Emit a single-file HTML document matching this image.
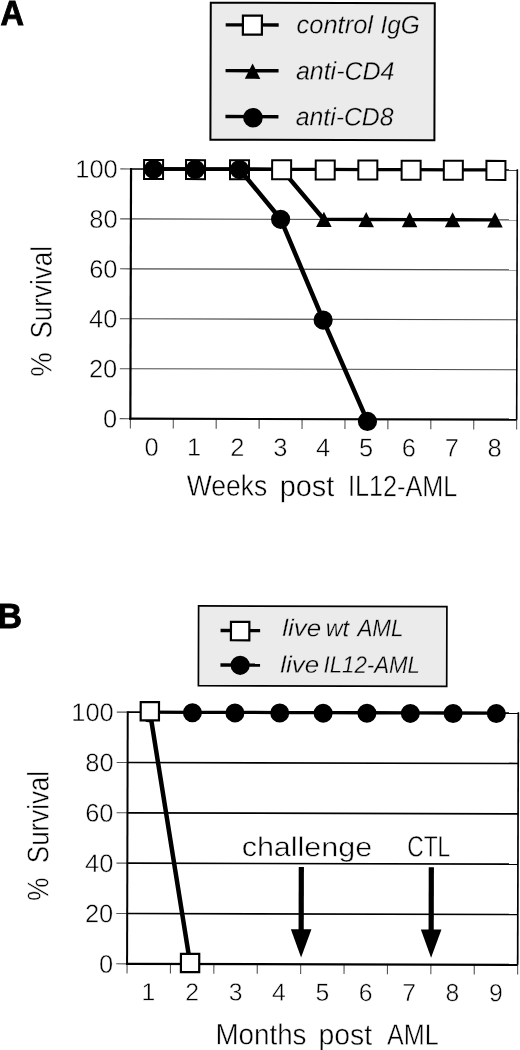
<!DOCTYPE html>
<html><head><meta charset="utf-8"><style>
html,body{margin:0;padding:0;background:#fff;width:520px;height:1050px;overflow:hidden;}
svg{display:block;will-change:transform;font-family:"Liberation Sans", sans-serif;}
</style></head><body>
<svg width="520" height="1050" viewBox="0 0 520 1050">
<rect x="0" y="0" width="520" height="1050" fill="#fff"/>
<text x="0.44" y="24.75" font-size="34.16" font-family="Liberation Sans, sans-serif" font-weight="bold" stroke="#000" stroke-width="0.9" textLength="23.47" lengthAdjust="spacingAndGlyphs">A</text>
<g transform="rotate(0.15 324 294)">
<rect x="210" y="3" width="224" height="137" fill="#ebebeb" stroke="#000" stroke-width="2"/>
<line x1="225" y1="25.1" x2="278" y2="25.1" stroke="#000" stroke-width="3.4" stroke-linecap="butt"/>
<line x1="225" y1="70.9" x2="278" y2="70.9" stroke="#000" stroke-width="3.4" stroke-linecap="butt"/>
<line x1="225" y1="116.8" x2="278" y2="116.8" stroke="#000" stroke-width="3.4" stroke-linecap="butt"/>
<rect x="242.2" y="15.8" width="19" height="19" fill="#fff" stroke="#000" stroke-width="2.2"/>
<polygon points="252,63.75 259.75,79.05 244.25,79.05" fill="#000"/>
<circle cx="252.5" cy="117.9" r="9.8" fill="#000"/>
<text x="295.87" y="33.3" font-size="25.44" font-family="Liberation Sans, sans-serif" font-style="italic" stroke="#ebebeb" stroke-width="0.3" textLength="76.46" lengthAdjust="spacingAndGlyphs">control</text>
<text x="379.74" y="33.3" font-size="25.44" font-family="Liberation Sans, sans-serif" font-style="italic" stroke="#ebebeb" stroke-width="0.3" textLength="39.31" lengthAdjust="spacingAndGlyphs">IgG</text>
<text x="295.34" y="79.6" font-size="25.44" font-family="Liberation Sans, sans-serif" font-style="italic" stroke="#ebebeb" stroke-width="0.3" textLength="98.5" lengthAdjust="spacingAndGlyphs">anti-CD4</text>
<text x="295.34" y="125.4" font-size="25.44" font-family="Liberation Sans, sans-serif" font-style="italic" stroke="#ebebeb" stroke-width="0.3" textLength="97.7" lengthAdjust="spacingAndGlyphs">anti-CD8</text>
<line x1="130.7" y1="369.25" x2="517" y2="369.25" stroke="#4a4a4a" stroke-width="1.1" stroke-linecap="butt"/>
<line x1="130.7" y1="319.3" x2="517" y2="319.3" stroke="#4a4a4a" stroke-width="1.1" stroke-linecap="butt"/>
<line x1="130.7" y1="269.35" x2="517" y2="269.35" stroke="#4a4a4a" stroke-width="1.1" stroke-linecap="butt"/>
<line x1="130.7" y1="219.4" x2="517" y2="219.4" stroke="#4a4a4a" stroke-width="1.1" stroke-linecap="butt"/>
<line x1="130.7" y1="169.45" x2="517" y2="169.45" stroke="#000" stroke-width="1.6" stroke-linecap="butt"/>
<line x1="517" y1="168.65" x2="517" y2="419.2" stroke="#000" stroke-width="1.6" stroke-linecap="butt"/>
<line x1="120" y1="419.2" x2="130.7" y2="419.2" stroke="#555" stroke-width="1.1" stroke-linecap="butt"/>
<line x1="120" y1="369.25" x2="130.7" y2="369.25" stroke="#555" stroke-width="1.1" stroke-linecap="butt"/>
<line x1="120" y1="319.3" x2="130.7" y2="319.3" stroke="#555" stroke-width="1.1" stroke-linecap="butt"/>
<line x1="120" y1="269.35" x2="130.7" y2="269.35" stroke="#555" stroke-width="1.1" stroke-linecap="butt"/>
<line x1="120" y1="219.4" x2="130.7" y2="219.4" stroke="#555" stroke-width="1.1" stroke-linecap="butt"/>
<line x1="120" y1="169.45" x2="130.7" y2="169.45" stroke="#555" stroke-width="1.1" stroke-linecap="butt"/>
<line x1="130.7" y1="419.2" x2="130.7" y2="429" stroke="#555" stroke-width="1.1" stroke-linecap="butt"/>
<line x1="173.62" y1="419.2" x2="173.62" y2="429" stroke="#555" stroke-width="1.1" stroke-linecap="butt"/>
<line x1="216.54" y1="419.2" x2="216.54" y2="429" stroke="#555" stroke-width="1.1" stroke-linecap="butt"/>
<line x1="259.47" y1="419.2" x2="259.47" y2="429" stroke="#555" stroke-width="1.1" stroke-linecap="butt"/>
<line x1="302.39" y1="419.2" x2="302.39" y2="429" stroke="#555" stroke-width="1.1" stroke-linecap="butt"/>
<line x1="345.31" y1="419.2" x2="345.31" y2="429" stroke="#555" stroke-width="1.1" stroke-linecap="butt"/>
<line x1="388.23" y1="419.2" x2="388.23" y2="429" stroke="#555" stroke-width="1.1" stroke-linecap="butt"/>
<line x1="431.16" y1="419.2" x2="431.16" y2="429" stroke="#555" stroke-width="1.1" stroke-linecap="butt"/>
<line x1="474.08" y1="419.2" x2="474.08" y2="429" stroke="#555" stroke-width="1.1" stroke-linecap="butt"/>
<line x1="517" y1="419.2" x2="517" y2="429" stroke="#555" stroke-width="1.1" stroke-linecap="butt"/>
<line x1="130.7" y1="168.45" x2="130.7" y2="420.2" stroke="#000" stroke-width="2.2" stroke-linecap="butt"/>
<line x1="129.7" y1="419.2" x2="517" y2="419.2" stroke="#000" stroke-width="2.2" stroke-linecap="butt"/>
<text x="103.25" y="428.1" font-size="25.42" font-family="Liberation Sans, sans-serif" stroke="#fff" stroke-width="0.45">0</text>
<text x="89.11" y="378.15" font-size="25.42" font-family="Liberation Sans, sans-serif" stroke="#fff" stroke-width="0.45">20</text>
<text x="89.11" y="328.2" font-size="25.42" font-family="Liberation Sans, sans-serif" stroke="#fff" stroke-width="0.45">40</text>
<text x="89.11" y="278.25" font-size="25.42" font-family="Liberation Sans, sans-serif" stroke="#fff" stroke-width="0.45">60</text>
<text x="89.11" y="228.3" font-size="25.42" font-family="Liberation Sans, sans-serif" stroke="#fff" stroke-width="0.45">80</text>
<text x="74.97" y="178.35" font-size="25.42" font-family="Liberation Sans, sans-serif" stroke="#fff" stroke-width="0.45">100</text>
<text x="144.83" y="456.2" font-size="25.42" font-family="Liberation Sans, sans-serif" stroke="#fff" stroke-width="0.45">0</text>
<text x="187.38" y="456.2" font-size="25.42" font-family="Liberation Sans, sans-serif" stroke="#fff" stroke-width="0.45">1</text>
<text x="230.63" y="456.2" font-size="25.42" font-family="Liberation Sans, sans-serif" stroke="#fff" stroke-width="0.45">2</text>
<text x="273.6" y="456.2" font-size="25.42" font-family="Liberation Sans, sans-serif" stroke="#fff" stroke-width="0.45">3</text>
<text x="316.51" y="456.2" font-size="25.42" font-family="Liberation Sans, sans-serif" stroke="#fff" stroke-width="0.45">4</text>
<text x="359.36" y="456.2" font-size="25.42" font-family="Liberation Sans, sans-serif" stroke="#fff" stroke-width="0.45">5</text>
<text x="402.14" y="456.2" font-size="25.42" font-family="Liberation Sans, sans-serif" stroke="#fff" stroke-width="0.45">6</text>
<text x="445.12" y="456.2" font-size="25.42" font-family="Liberation Sans, sans-serif" stroke="#fff" stroke-width="0.45">7</text>
<text x="488.03" y="456.2" font-size="25.42" font-family="Liberation Sans, sans-serif" stroke="#fff" stroke-width="0.45">8</text>
<text x="187.38" y="496" font-size="29.51" font-family="Liberation Sans, sans-serif" stroke="#fff" stroke-width="0.45" textLength="80.26" lengthAdjust="spacingAndGlyphs">Weeks</text>
<text x="280.24" y="496" font-size="29.51" font-family="Liberation Sans, sans-serif" stroke="#fff" stroke-width="0.45" textLength="54.57" lengthAdjust="spacingAndGlyphs">post</text>
<text x="348.47" y="496" font-size="29.51" font-family="Liberation Sans, sans-serif" stroke="#fff" stroke-width="0.45" textLength="109.26" lengthAdjust="spacingAndGlyphs">IL12-AML</text>
<text x="-339.18" y="0" font-size="29.8" font-family="Liberation Sans, sans-serif" stroke="#fff" stroke-width="0.45" textLength="92.42" lengthAdjust="spacingAndGlyphs" transform="translate(51.6,0) rotate(-90)">Survival</text>
<text x="-377.38" y="0" font-size="29.8" font-family="Liberation Sans, sans-serif" stroke="#fff" stroke-width="0.45" textLength="24.57" lengthAdjust="spacingAndGlyphs" transform="translate(51.6,0) rotate(-90)">%</text>
<line x1="153.25" y1="169.45" x2="195.2" y2="169.45" stroke="#000" stroke-width="3.3" stroke-linecap="round"/>
<line x1="195.2" y1="169.45" x2="239.2" y2="169.45" stroke="#000" stroke-width="3.3" stroke-linecap="round"/>
<line x1="239.2" y1="169.45" x2="281.3" y2="169.45" stroke="#000" stroke-width="3.3" stroke-linecap="round"/>
<line x1="281.3" y1="169.45" x2="323.7" y2="219.4" stroke="#000" stroke-width="4.5" stroke-linecap="round"/>
<line x1="323.7" y1="219.4" x2="366" y2="219.4" stroke="#000" stroke-width="3.3" stroke-linecap="round"/>
<line x1="366" y1="219.4" x2="409.4" y2="219.4" stroke="#000" stroke-width="3.3" stroke-linecap="round"/>
<line x1="409.4" y1="219.4" x2="452.4" y2="219.4" stroke="#000" stroke-width="3.3" stroke-linecap="round"/>
<line x1="452.4" y1="219.4" x2="494.8" y2="219.4" stroke="#000" stroke-width="3.3" stroke-linecap="round"/>
<polygon points="153.25,161.85 161,177.05 145.5,177.05" fill="#000"/>
<polygon points="195.2,161.85 202.95,177.05 187.45,177.05" fill="#000"/>
<polygon points="239.2,161.85 246.95,177.05 231.45,177.05" fill="#000"/>
<polygon points="281.3,161.85 289.05,177.05 273.55,177.05" fill="#000"/>
<polygon points="323.7,211.8 331.45,227 315.95,227" fill="#000"/>
<polygon points="366,211.8 373.75,227 358.25,227" fill="#000"/>
<polygon points="409.4,211.8 417.15,227 401.65,227" fill="#000"/>
<polygon points="452.4,211.8 460.15,227 444.65,227" fill="#000"/>
<polygon points="494.8,211.8 502.55,227 487.05,227" fill="#000"/>
<line x1="153.25" y1="169.45" x2="195.2" y2="169.45" stroke="#000" stroke-width="3.3" stroke-linecap="round"/>
<line x1="195.2" y1="169.45" x2="239.2" y2="169.45" stroke="#000" stroke-width="3.3" stroke-linecap="round"/>
<line x1="239.2" y1="169.45" x2="281.3" y2="169.45" stroke="#000" stroke-width="3.3" stroke-linecap="round"/>
<line x1="281.3" y1="169.45" x2="324.9" y2="169.45" stroke="#000" stroke-width="3.3" stroke-linecap="round"/>
<line x1="324.9" y1="169.45" x2="367.5" y2="169.45" stroke="#000" stroke-width="3.3" stroke-linecap="round"/>
<line x1="367.5" y1="169.45" x2="410.8" y2="169.45" stroke="#000" stroke-width="3.3" stroke-linecap="round"/>
<line x1="410.8" y1="169.45" x2="453" y2="169.45" stroke="#000" stroke-width="3.3" stroke-linecap="round"/>
<line x1="453" y1="169.45" x2="495.6" y2="169.45" stroke="#000" stroke-width="3.3" stroke-linecap="round"/>
<rect x="143.75" y="160.45" width="19" height="19" fill="#fff" stroke="#000" stroke-width="2"/>
<rect x="185.7" y="160.45" width="19" height="19" fill="#fff" stroke="#000" stroke-width="2"/>
<rect x="229.7" y="160.45" width="19" height="19" fill="#fff" stroke="#000" stroke-width="2"/>
<rect x="271.8" y="160.45" width="19" height="19" fill="#fff" stroke="#000" stroke-width="2"/>
<rect x="315.4" y="160.45" width="19" height="19" fill="#fff" stroke="#000" stroke-width="2"/>
<rect x="358" y="160.45" width="19" height="19" fill="#fff" stroke="#000" stroke-width="2"/>
<rect x="401.3" y="160.45" width="19" height="19" fill="#fff" stroke="#000" stroke-width="2"/>
<rect x="443.5" y="160.45" width="19" height="19" fill="#fff" stroke="#000" stroke-width="2"/>
<rect x="486.1" y="160.45" width="19" height="19" fill="#fff" stroke="#000" stroke-width="2"/>
<line x1="153.25" y1="169.45" x2="195" y2="169.45" stroke="#000" stroke-width="3.3" stroke-linecap="round"/>
<line x1="195" y1="169.45" x2="239.2" y2="169.45" stroke="#000" stroke-width="3.3" stroke-linecap="round"/>
<line x1="239.2" y1="169.45" x2="280.4" y2="219.1" stroke="#000" stroke-width="4.5" stroke-linecap="round"/>
<line x1="280.4" y1="219.1" x2="323.2" y2="319.8" stroke="#000" stroke-width="4.5" stroke-linecap="round"/>
<line x1="323.2" y1="319.8" x2="367.8" y2="421" stroke="#000" stroke-width="4.5" stroke-linecap="round"/>
<circle cx="153.25" cy="169.75" r="9.6" fill="#000"/>
<circle cx="195" cy="169.75" r="9.6" fill="#000"/>
<circle cx="239.2" cy="169.75" r="9.6" fill="#000"/>
<circle cx="280.4" cy="219.4" r="9.6" fill="#000"/>
<circle cx="323.2" cy="320.1" r="9.6" fill="#000"/>
<circle cx="367.8" cy="421.3" r="9.6" fill="#000"/>
</g>
<text x="-2.62" y="627.65" font-size="34.45" font-family="Liberation Sans, sans-serif" font-weight="bold" stroke="#000" stroke-width="0.9" textLength="24.51" lengthAdjust="spacingAndGlyphs">B</text>
<g transform="rotate(0.15 323 838)">
<rect x="198" y="606.3" width="248.3" height="79.8" fill="#ebebeb" stroke="#000" stroke-width="1.7"/>
<line x1="220" y1="630.8" x2="259.6" y2="630.8" stroke="#000" stroke-width="3.4" stroke-linecap="butt"/>
<line x1="220" y1="665.3" x2="259.6" y2="665.3" stroke="#000" stroke-width="3.4" stroke-linecap="butt"/>
<rect x="230.4" y="622.1" width="18.4" height="18.4" fill="#fff" stroke="#000" stroke-width="2.2"/>
<circle cx="239.7" cy="665.5" r="9.6" fill="#000"/>
<text x="281.78" y="636.2" font-size="23.98" font-family="Liberation Sans, sans-serif" font-style="italic" stroke="#ebebeb" stroke-width="0.3" textLength="38.88" lengthAdjust="spacingAndGlyphs">live</text>
<text x="325.13" y="636.2" font-size="23.98" font-family="Liberation Sans, sans-serif" font-style="italic" stroke="#ebebeb" stroke-width="0.3" textLength="23.46" lengthAdjust="spacingAndGlyphs">wt</text>
<text x="356.9" y="636.2" font-size="23.98" font-family="Liberation Sans, sans-serif" font-style="italic" stroke="#ebebeb" stroke-width="0.3" textLength="45.96" lengthAdjust="spacingAndGlyphs">AML</text>
<text x="279.78" y="672.8" font-size="23.98" font-family="Liberation Sans, sans-serif" font-style="italic" stroke="#ebebeb" stroke-width="0.3" textLength="38.88" lengthAdjust="spacingAndGlyphs">live</text>
<text x="323.12" y="672.8" font-size="23.98" font-family="Liberation Sans, sans-serif" font-style="italic" stroke="#ebebeb" stroke-width="0.3" textLength="96.23" lengthAdjust="spacingAndGlyphs">IL12-AML</text>
<line x1="127.4" y1="914.01" x2="518" y2="914.01" stroke="#000" stroke-width="1.7" stroke-linecap="butt"/>
<line x1="127.4" y1="863.67" x2="518" y2="863.67" stroke="#000" stroke-width="1.7" stroke-linecap="butt"/>
<line x1="127.4" y1="813.33" x2="518" y2="813.33" stroke="#000" stroke-width="1.7" stroke-linecap="butt"/>
<line x1="127.4" y1="762.99" x2="518" y2="762.99" stroke="#000" stroke-width="1.7" stroke-linecap="butt"/>
<line x1="127.4" y1="712.65" x2="518" y2="712.65" stroke="#000" stroke-width="1.7" stroke-linecap="butt"/>
<line x1="518" y1="711.85" x2="518" y2="964.35" stroke="#000" stroke-width="1.7" stroke-linecap="butt"/>
<line x1="116.5" y1="964.35" x2="127.4" y2="964.35" stroke="#555" stroke-width="1.1" stroke-linecap="butt"/>
<line x1="116.5" y1="914.01" x2="127.4" y2="914.01" stroke="#555" stroke-width="1.1" stroke-linecap="butt"/>
<line x1="116.5" y1="863.67" x2="127.4" y2="863.67" stroke="#555" stroke-width="1.1" stroke-linecap="butt"/>
<line x1="116.5" y1="813.33" x2="127.4" y2="813.33" stroke="#555" stroke-width="1.1" stroke-linecap="butt"/>
<line x1="116.5" y1="762.99" x2="127.4" y2="762.99" stroke="#555" stroke-width="1.1" stroke-linecap="butt"/>
<line x1="116.5" y1="712.65" x2="127.4" y2="712.65" stroke="#555" stroke-width="1.1" stroke-linecap="butt"/>
<line x1="127.4" y1="964.35" x2="127.4" y2="974" stroke="#555" stroke-width="1.1" stroke-linecap="butt"/>
<line x1="170.8" y1="964.35" x2="170.8" y2="974" stroke="#555" stroke-width="1.1" stroke-linecap="butt"/>
<line x1="214.2" y1="964.35" x2="214.2" y2="974" stroke="#555" stroke-width="1.1" stroke-linecap="butt"/>
<line x1="257.6" y1="964.35" x2="257.6" y2="974" stroke="#555" stroke-width="1.1" stroke-linecap="butt"/>
<line x1="301" y1="964.35" x2="301" y2="974" stroke="#555" stroke-width="1.1" stroke-linecap="butt"/>
<line x1="344.4" y1="964.35" x2="344.4" y2="974" stroke="#555" stroke-width="1.1" stroke-linecap="butt"/>
<line x1="387.8" y1="964.35" x2="387.8" y2="974" stroke="#555" stroke-width="1.1" stroke-linecap="butt"/>
<line x1="431.2" y1="964.35" x2="431.2" y2="974" stroke="#555" stroke-width="1.1" stroke-linecap="butt"/>
<line x1="474.6" y1="964.35" x2="474.6" y2="974" stroke="#555" stroke-width="1.1" stroke-linecap="butt"/>
<line x1="518" y1="964.35" x2="518" y2="974" stroke="#555" stroke-width="1.1" stroke-linecap="butt"/>
<line x1="127.4" y1="711.65" x2="127.4" y2="965.35" stroke="#000" stroke-width="2" stroke-linecap="butt"/>
<line x1="126.4" y1="964.35" x2="518" y2="964.35" stroke="#000" stroke-width="2.2" stroke-linecap="butt"/>
<text x="99.25" y="973.25" font-size="25.42" font-family="Liberation Sans, sans-serif" stroke="#fff" stroke-width="0.45">0</text>
<text x="85.11" y="922.91" font-size="25.42" font-family="Liberation Sans, sans-serif" stroke="#fff" stroke-width="0.45">20</text>
<text x="85.11" y="872.57" font-size="25.42" font-family="Liberation Sans, sans-serif" stroke="#fff" stroke-width="0.45">40</text>
<text x="85.11" y="822.23" font-size="25.42" font-family="Liberation Sans, sans-serif" stroke="#fff" stroke-width="0.45">60</text>
<text x="85.11" y="771.89" font-size="25.42" font-family="Liberation Sans, sans-serif" stroke="#fff" stroke-width="0.45">80</text>
<text x="70.97" y="721.55" font-size="25.42" font-family="Liberation Sans, sans-serif" stroke="#fff" stroke-width="0.45">100</text>
<text x="141.89" y="1000.8" font-size="24.72" font-family="Liberation Sans, sans-serif" stroke="#fff" stroke-width="0.45">1</text>
<text x="185.63" y="1000.8" font-size="24.72" font-family="Liberation Sans, sans-serif" stroke="#fff" stroke-width="0.45">2</text>
<text x="229.1" y="1000.8" font-size="24.72" font-family="Liberation Sans, sans-serif" stroke="#fff" stroke-width="0.45">3</text>
<text x="272.51" y="1000.8" font-size="24.72" font-family="Liberation Sans, sans-serif" stroke="#fff" stroke-width="0.45">4</text>
<text x="315.85" y="1000.8" font-size="24.72" font-family="Liberation Sans, sans-serif" stroke="#fff" stroke-width="0.45">5</text>
<text x="359.14" y="1000.8" font-size="24.72" font-family="Liberation Sans, sans-serif" stroke="#fff" stroke-width="0.45">6</text>
<text x="402.61" y="1000.8" font-size="24.72" font-family="Liberation Sans, sans-serif" stroke="#fff" stroke-width="0.45">7</text>
<text x="446.03" y="1000.8" font-size="24.72" font-family="Liberation Sans, sans-serif" stroke="#fff" stroke-width="0.45">8</text>
<text x="489.43" y="1000.8" font-size="24.72" font-family="Liberation Sans, sans-serif" stroke="#fff" stroke-width="0.45">9</text>
<text x="216.02" y="1044.6" font-size="29.36" font-family="Liberation Sans, sans-serif" stroke="#fff" stroke-width="0.45" textLength="90.98" lengthAdjust="spacingAndGlyphs">Months</text>
<text x="318.97" y="1044.6" font-size="29.36" font-family="Liberation Sans, sans-serif" stroke="#fff" stroke-width="0.45" textLength="53.64" lengthAdjust="spacingAndGlyphs">post</text>
<text x="387.65" y="1044.6" font-size="29.36" font-family="Liberation Sans, sans-serif" stroke="#fff" stroke-width="0.45" textLength="51.58" lengthAdjust="spacingAndGlyphs">AML</text>
<text x="-863.88" y="0" font-size="29.8" font-family="Liberation Sans, sans-serif" stroke="#fff" stroke-width="0.45" textLength="92.21" lengthAdjust="spacingAndGlyphs" transform="translate(48.4,0) rotate(-90)">Survival</text>
<text x="-901.74" y="0" font-size="29.8" font-family="Liberation Sans, sans-serif" stroke="#fff" stroke-width="0.45" textLength="23.48" lengthAdjust="spacingAndGlyphs" transform="translate(48.4,0) rotate(-90)">%</text>
<text x="241.71" y="856.2" font-size="27.17" font-family="Liberation Sans, sans-serif" stroke="#fff" stroke-width="0.45" textLength="130.45" lengthAdjust="spacingAndGlyphs">challenge</text>
<text x="407.35" y="856.2" font-size="29.36" font-family="Liberation Sans, sans-serif" stroke="#fff" stroke-width="0.45" textLength="42.91" lengthAdjust="spacingAndGlyphs">CTL</text>
<rect x="298.8" y="867" width="5.2" height="64" fill="#000"/>
<polygon points="291.1,929.3 311.7,929.3 301.4,957.5" fill="#000"/>
<rect x="428.8" y="867" width="5.2" height="64" fill="#000"/>
<polygon points="421.1,929.3 441.7,929.3 431.4,957.5" fill="#000"/>
<line x1="149.2" y1="712.65" x2="192.1" y2="712.65" stroke="#000" stroke-width="3.3" stroke-linecap="round"/>
<line x1="192.1" y1="712.65" x2="234.6" y2="712.65" stroke="#000" stroke-width="3.3" stroke-linecap="round"/>
<line x1="234.6" y1="712.65" x2="279.4" y2="712.65" stroke="#000" stroke-width="3.3" stroke-linecap="round"/>
<line x1="279.4" y1="712.65" x2="322.8" y2="712.65" stroke="#000" stroke-width="3.3" stroke-linecap="round"/>
<line x1="322.8" y1="712.65" x2="366.6" y2="712.65" stroke="#000" stroke-width="3.3" stroke-linecap="round"/>
<line x1="366.6" y1="712.65" x2="410" y2="712.65" stroke="#000" stroke-width="3.3" stroke-linecap="round"/>
<line x1="410" y1="712.65" x2="452.8" y2="712.65" stroke="#000" stroke-width="3.3" stroke-linecap="round"/>
<line x1="452.8" y1="712.65" x2="496" y2="712.65" stroke="#000" stroke-width="3.3" stroke-linecap="round"/>
<circle cx="149.2" cy="713.15" r="9.5" fill="#000"/>
<circle cx="192.1" cy="713.15" r="9.5" fill="#000"/>
<circle cx="234.6" cy="713.15" r="9.5" fill="#000"/>
<circle cx="279.4" cy="713.15" r="9.5" fill="#000"/>
<circle cx="322.8" cy="713.15" r="9.5" fill="#000"/>
<circle cx="366.6" cy="713.15" r="9.5" fill="#000"/>
<circle cx="410" cy="713.15" r="9.5" fill="#000"/>
<circle cx="452.8" cy="713.15" r="9.5" fill="#000"/>
<circle cx="496" cy="713.15" r="9.5" fill="#000"/>
<line x1="149.5" y1="711.65" x2="190.4" y2="963.4" stroke="#000" stroke-width="4.5" stroke-linecap="round"/>
<rect x="140.35" y="702.5" width="18.3" height="18.3" fill="#fff" stroke="#000" stroke-width="2.2"/>
<rect x="181.25" y="954.25" width="18.3" height="18.3" fill="#fff" stroke="#000" stroke-width="2.2"/>
</g>
</svg>
</body></html>
